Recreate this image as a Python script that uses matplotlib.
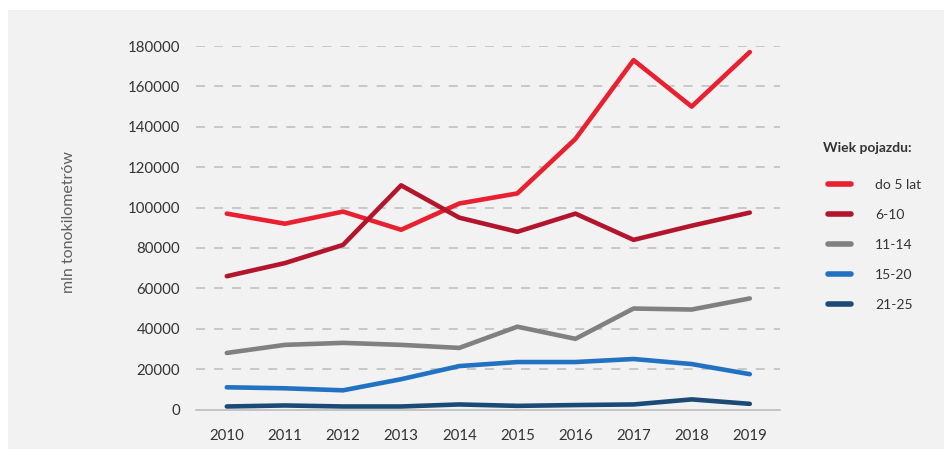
import matplotlib
matplotlib.use("Agg")
import matplotlib.pyplot as plt
from matplotlib.patches import Rectangle

plt.rcParams['font.family'] = ['Lato', 'DejaVu Sans']

years = [2010, 2011, 2012, 2013, 2014, 2015, 2016, 2017, 2018, 2019]

do_5_lat = [97000, 92000, 98000, 89000, 102000, 107000, 134000, 173000, 150000, 177000]
lat_6_10 = [66000, 72500, 81500, 111000, 95000, 88000, 97000, 84000, 91000, 97500]
lat_11_14 = [28000, 32000, 33000, 32000, 30500, 41000, 35000, 50000, 49500, 55000]
lat_15_20 = [11000, 10500, 9500, 15000, 21500, 23500, 23500, 25000, 22500, 17500]
lat_21_25 = [1500, 2000, 1500, 1500, 2500, 1800, 2200, 2500, 5000, 2800]

series = [
    ('do 5 lat', do_5_lat, '#e8202f'),
    ('6-10', lat_6_10, '#b3162c'),
    ('11-14', lat_11_14, '#808080'),
    ('15-20', lat_15_20, '#2272c3'),
    ('21-25', lat_21_25, '#1c4a76'),
]

yticks = [0, 20000, 40000, 60000, 80000, 100000, 120000, 140000, 160000, 180000]

W, H = 944, 449
fig = plt.figure(figsize=(W / 100, H / 100), dpi=100)
fig.patch.set_facecolor('white')
fig.patches.append(Rectangle((8 / W, 0), 1 - 8 / W, 1 - 10 / H, transform=fig.transFigure,
                             facecolor='#f2f2f2', edgecolor='none', zorder=0))

ax = fig.add_axes([196 / W, (H - 409.5) / H, 584 / W, 363.5 / H])
ax.set_zorder(2)
ax.set_facecolor('none')

for y in yticks[1:]:
    ax.axhline(y, color='#c4c4c4', lw=1.3, dashes=(5, 5), zorder=1)

handles = []
for name, vals, col in series:
    ln, = ax.plot(years, vals, color=col, lw=3.3, label=name, solid_capstyle='round',
                  solid_joinstyle='round', zorder=3)
    handles.append(ln)

ax.set_xlim(2009.47, 2019.52)
ax.set_ylim(0, 180000)
ax.set_xticks(years)
ax.set_yticks(yticks)
ax.set_yticklabels([str(v) for v in yticks])
ax.tick_params(axis='both', length=0, labelsize=10.8, colors='#333333')
ax.tick_params(axis='y', pad=11.5)
ax.tick_params(axis='x', pad=14)

for s in ['top', 'right', 'left']:
    ax.spines[s].set_visible(False)
ax.spines['bottom'].set_color('#bdbdbd')
ax.spines['bottom'].set_linewidth(1.2)

fig.text(69 / W, 1 - 222 / H, 'mln tonokilometrów', rotation=90, ha='center', va='center',
         fontsize=11.5, color='#606060')

fig.text(823 / W, 1 - 148 / H, 'Wiek pojazdu:', ha='left', va='center', fontsize=10,
         fontweight='bold', color='#333333')

leg = fig.legend(handles=handles, loc='upper left', bbox_to_anchor=(821 / W, 1 - 172 / H),
                 frameon=False, fontsize=10, handlelength=1.65, handletextpad=1.75,
                 labelspacing=1.3, borderpad=0)
leg.set_zorder(3)
for t in leg.get_texts():
    t.set_color('#333333')
for lh in leg.legend_handles:
    lh.set_linewidth(4)

fig.savefig('out.png', dpi=100)
